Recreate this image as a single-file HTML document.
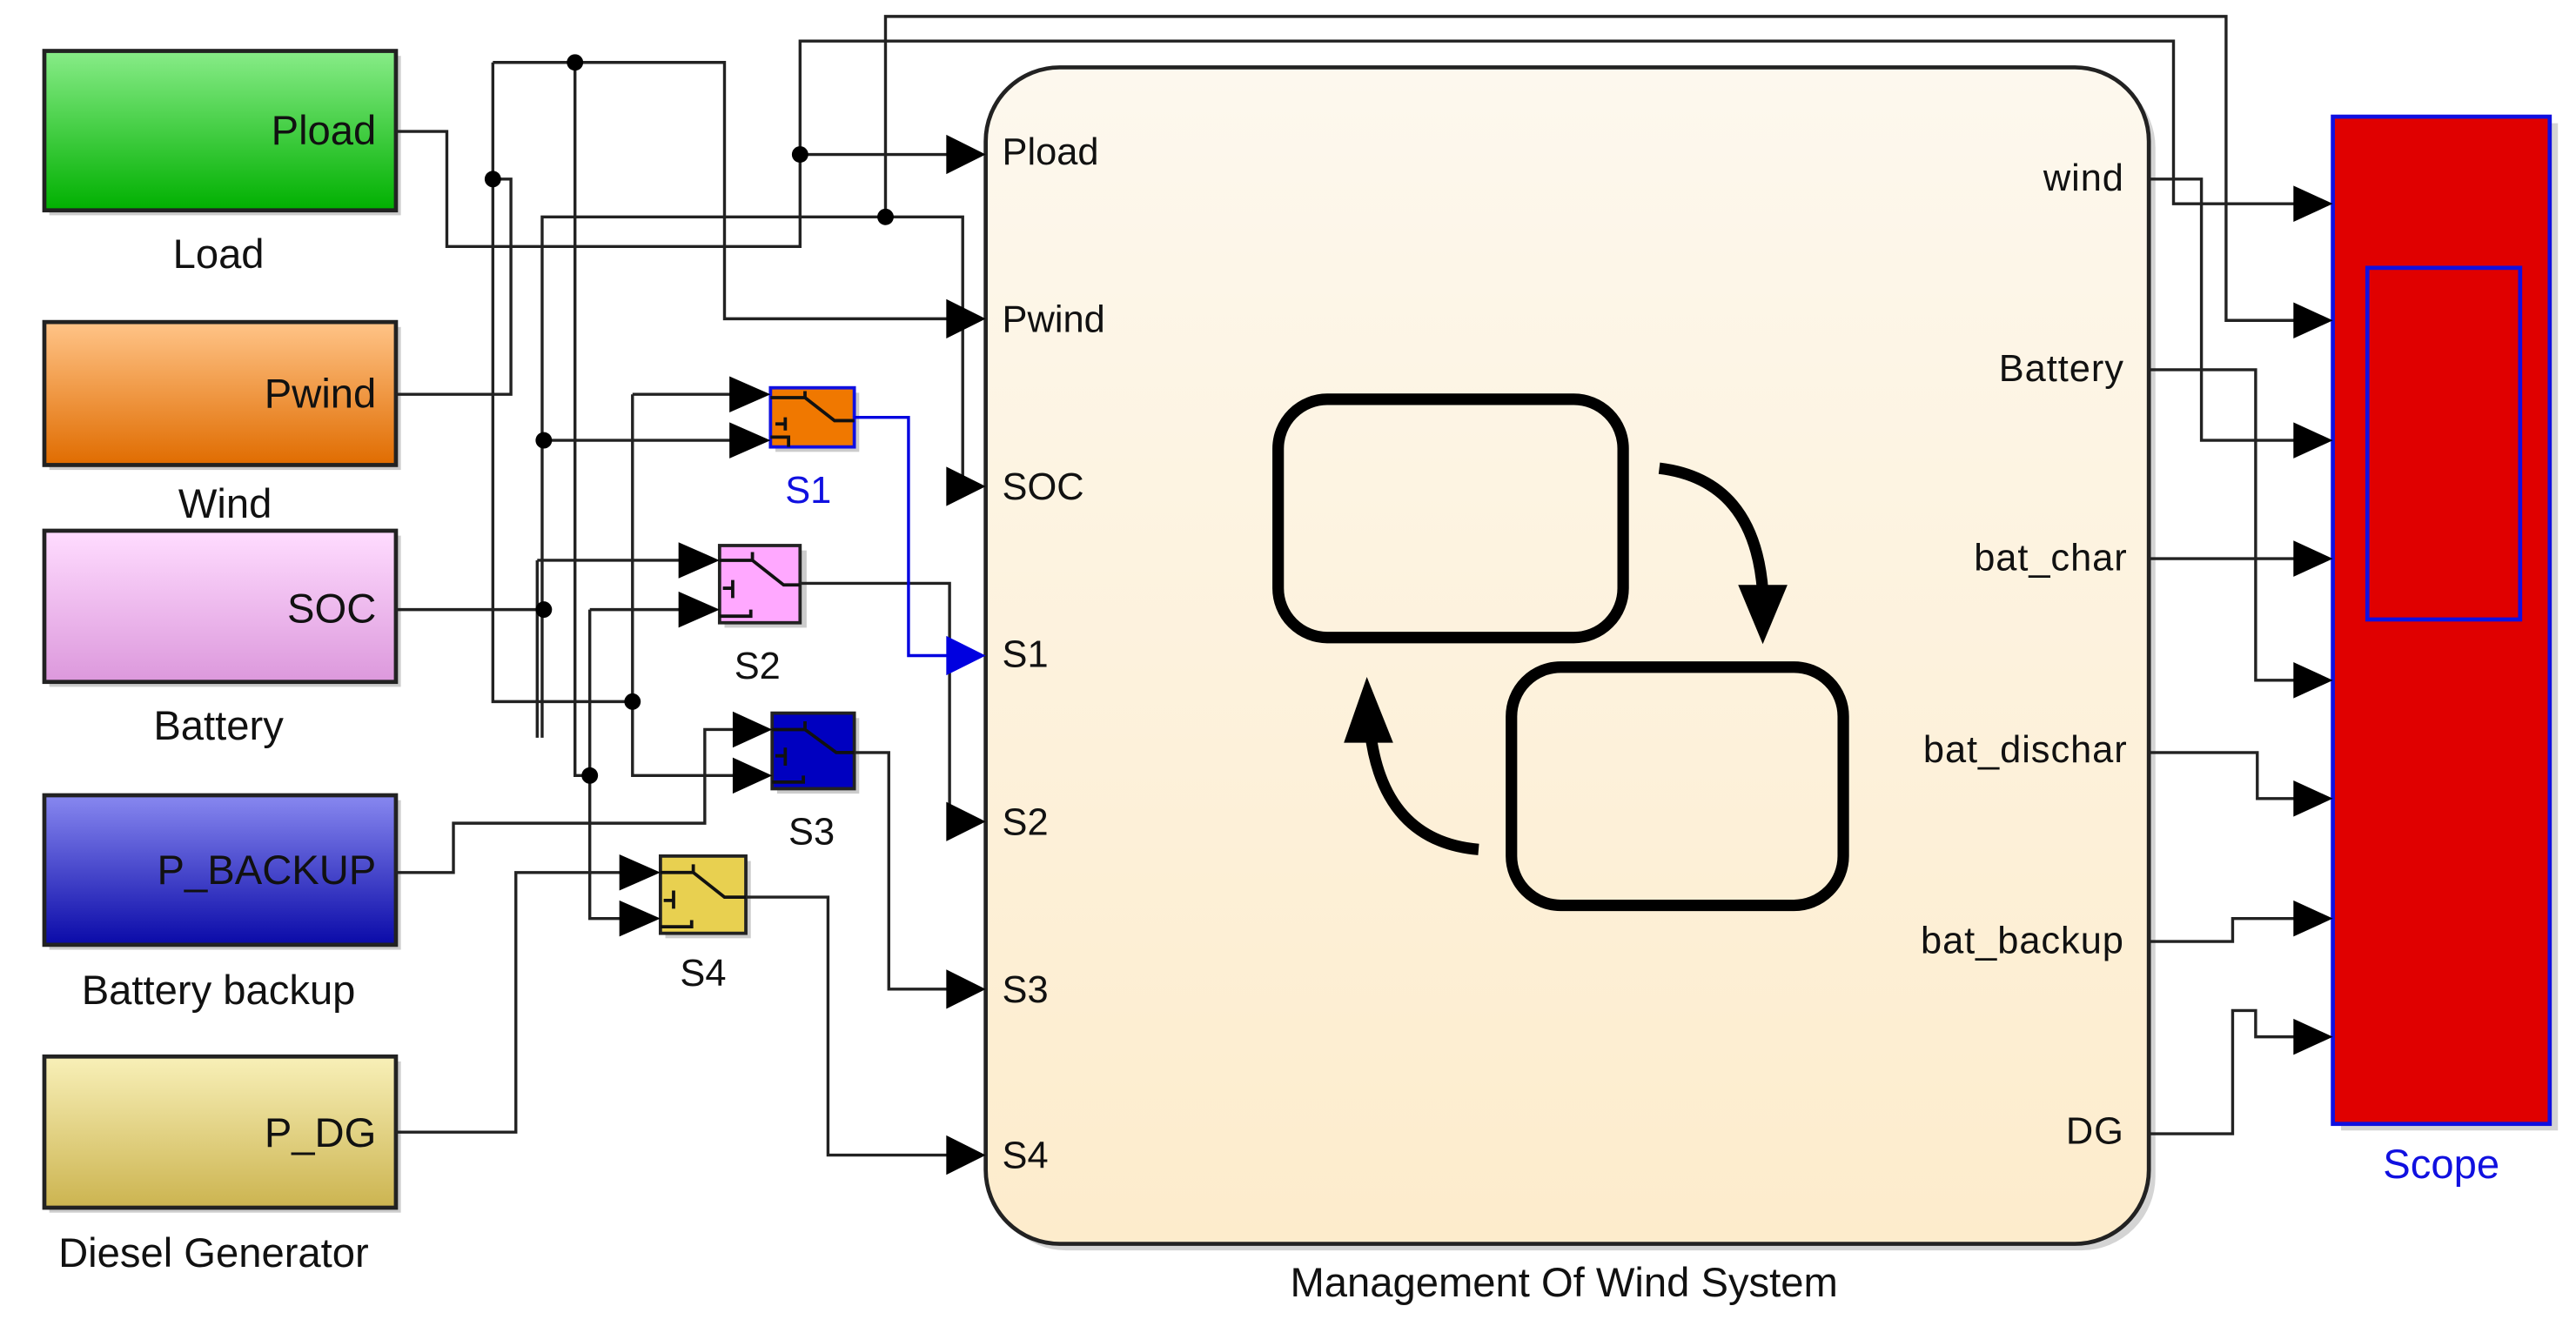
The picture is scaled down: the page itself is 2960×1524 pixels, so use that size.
<!DOCTYPE html>
<html><head><meta charset="utf-8"><style>
html,body{margin:0;padding:0;background:#fff;}
svg{display:block;}
text{font-family:"Liberation Sans",sans-serif;}
</style></head><body>
<svg width="2960" height="1524" viewBox="0 0 1568 807" preserveAspectRatio="none" xmlns="http://www.w3.org/2000/svg">
<defs>
<linearGradient id="gG" x1="0" y1="0" x2="0" y2="1"><stop offset="0" stop-color="#88ec88"/><stop offset="1" stop-color="#00b000"/></linearGradient>
<linearGradient id="gO" x1="0" y1="0" x2="0" y2="1"><stop offset="0" stop-color="#ffc488"/><stop offset="1" stop-color="#e06c00"/></linearGradient>
<linearGradient id="gP" x1="0" y1="0" x2="0" y2="1"><stop offset="0" stop-color="#ffdcff"/><stop offset="1" stop-color="#dc98dc"/></linearGradient>
<linearGradient id="gB" x1="0" y1="0" x2="0" y2="1"><stop offset="0" stop-color="#8888f0"/><stop offset="1" stop-color="#0a0aa8"/></linearGradient>
<linearGradient id="gY" x1="0" y1="0" x2="0" y2="1"><stop offset="0" stop-color="#f8f0b8"/><stop offset="1" stop-color="#ccb450"/></linearGradient>
<linearGradient id="gC" x1="0" y1="0" x2="0" y2="1"><stop offset="0" stop-color="#fdf8ee"/><stop offset="1" stop-color="#fdeccc"/></linearGradient>
</defs>

<g stroke="#222" stroke-width="2.5">
<rect x="30" y="34" width="214" height="97" fill="#999" stroke="none" opacity=".5"/>
<rect x="27" y="31" width="214" height="97" fill="url(#gG)"/>
<rect x="30" y="199" width="214" height="87" fill="#999" stroke="none" opacity=".5"/>
<rect x="27" y="196" width="214" height="87" fill="url(#gO)"/>
<rect x="30" y="326" width="214" height="92" fill="#999" stroke="none" opacity=".5"/>
<rect x="27" y="323" width="214" height="92" fill="url(#gP)"/>
<rect x="30" y="487" width="214" height="91" fill="#999" stroke="none" opacity=".5"/>
<rect x="27" y="484" width="214" height="91" fill="url(#gB)"/>
<rect x="30" y="646" width="214" height="92" fill="#999" stroke="none" opacity=".5"/>
<rect x="27" y="643" width="214" height="92" fill="url(#gY)"/>
</g>
<g font-size="25" fill="#111" text-anchor="end">
<text x="229" y="88">Pload</text>
<text x="229" y="248">Pwind</text>
<text x="229" y="379">SOC</text>
<text x="229" y="538">P_BACKUP</text>
<text x="229" y="698">P_DG</text>
</g>
<g font-size="25" fill="#111" text-anchor="middle">
<text x="133" y="163">Load</text>
<text x="137" y="315">Wind</text>
<text x="133" y="450">Battery</text>
<text x="133" y="611">Battery backup</text>
<text x="130" y="771">Diesel Generator</text>
</g>

<rect x="604" y="45" width="708" height="716" rx="45" fill="#aaa" opacity=".5"/>
<rect x="600" y="41" width="708" height="716" rx="45" fill="url(#gC)" stroke="#222" stroke-width="2.5"/>
<g font-size="23" fill="#111">
<text x="610" y="100">Pload</text>
<text x="610" y="202">Pwind</text>
<text x="610" y="304">SOC</text>
<text x="610" y="406">S1</text>
<text x="610" y="508">S2</text>
<text x="610" y="610">S3</text>
<text x="610" y="711">S4</text>
</g>
<g font-size="23" fill="#111" text-anchor="end" letter-spacing="0.5">
<text x="1293" y="116">wind</text>
<text x="1293" y="232">Battery</text>
<text x="1295" y="347">bat_char</text>
<text x="1295" y="464">bat_dischar</text>
<text x="1293" y="580">bat_backup</text>
<text x="1293" y="696">DG</text>
</g>
<text x="952" y="789" font-size="25" fill="#111" text-anchor="middle">Management Of Wind System</text>
<g fill="none" stroke="#000" stroke-width="7">
<rect x="778" y="243" width="210" height="145" rx="30"/>
<rect x="920" y="406" width="202" height="145" rx="30"/>
<path d="M1010,285 Q1068,292 1073,360"/>
<path d="M900,517 Q842,512 834,445"/>
</g>
<path d="M1058,356 L1088,356 L1073,392z" fill="#000"/>
<path d="M818,452 L848,452 L832,412z" fill="#000"/>

<rect x="1425" y="75" width="132" height="613" fill="#aaa" opacity=".5"/>
<rect x="1420" y="71" width="132" height="613" fill="#e00000" stroke="#1010e0" stroke-width="2.5"/>
<rect x="1441" y="163" width="93" height="214" fill="#e00000" stroke="#1010e0" stroke-width="2.5"/>
<text x="1486" y="717" font-size="25" fill="#1010e0" text-anchor="middle">Scope</text>

<g stroke="#222" stroke-width="2">
<rect x="472" y="239" width="51" height="36" fill="#999" stroke="none" opacity=".5"/>
<rect x="469" y="236" width="51" height="36" fill="#f07800" stroke="#1010e0"/>
<rect x="441" y="335" width="50" height="47" fill="#999" stroke="none" opacity=".5"/>
<rect x="438" y="332" width="49" height="47" fill="#ffa8ff"/>
<rect x="473" y="437" width="50" height="46" fill="#999" stroke="none" opacity=".5"/>
<rect x="470" y="434" width="50" height="46" fill="#0000c0"/>
<rect x="405" y="524" width="52" height="47" fill="#999" stroke="none" opacity=".5"/>
<rect x="402" y="521" width="52" height="47" fill="#e8d050"/>
</g>
<g fill="none" stroke="#111" stroke-width="2">
<path d="M469,242 H490 L508,256 H520 M490,242 V238 M478,254 V262 M472,258 H478 M480,272 V266 H469"/>
<path d="M438,341 H458 L477,356 H487 M458,341 V336 M446,353 V364 M440,358 H446 M438,375 H457 V371"/>
<path d="M470,444 H490 L509,458 H520 M490,444 V439 M478,455 V466 M472,460 H478 M470,476 H489 V472"/>
<path d="M402,531 H422 L441,546 H454 M422,531 V526 M410,542 V553 M404,548 H410 M402,564 H421 V560"/>
</g>
<g font-size="23" text-anchor="middle" fill="#111">
<text x="492" y="306" fill="#1010e0">S1</text>
<text x="461" y="413">S2</text>
<text x="494" y="514">S3</text>
<text x="428" y="600">S4</text>
</g>

<g fill="none" stroke="#222" stroke-width="1.8">
<path d="M241,80 H272 V150 H487 V94 H580"/>
<path d="M487,94 V25 H1323 V124 H1400"/>
<path d="M539,132 V10 H1355 V195 H1400"/>
<path d="M330,449 V132 H586 V290"/>
<path d="M241,371 H331 M331,268 H446"/>
<path d="M241,240 H311 V109 H300 M300,38 H441 V194 H580"/>
<path d="M300,38 V427 H385 M385,240 V472 H448"/>
<path d="M385,240 H448"/>
<path d="M350,38 V472 H359 M359,371 V559 H380"/>
<path d="M359,371 H415"/>
<path d="M327,341 V449 M327,341 H415"/>
<path d="M241,531 H276 V501 H429 V444 H448"/>
<path d="M241,689 H314 V531 H380"/>
<path d="M487,355 H578 V500 H580"/>
<path d="M520,458 H541 V602 H580"/>
<path d="M454,546 H504 V703 H580"/>
<path d="M1308,109 H1340 V268 H1400"/>
<path d="M1308,225 H1373 V414 H1400"/>
<path d="M1308,340 H1400"/>
<path d="M1308,458 H1374 V486 H1400"/>
<path d="M1308,573 H1359 V559 H1400"/>
<path d="M1308,690 H1359 V615 H1373 V631 H1400"/>
</g>
<path d="M520,254 H553 V399 H580" fill="none" stroke="#0000e0" stroke-width="1.8"/>
<g fill="#000">
<path d="M576,82 L600,94 L576,106z"/>
<path d="M576,182 L600,194 L576,206z"/>
<path d="M576,284 L600,296 L576,308z"/>
<path d="M576,488 L600,500 L576,512z"/>
<path d="M576,590 L600,602 L576,614z"/>
<path d="M576,691 L600,703 L576,715z"/>
<path d="M444,229 L469,240 L444,251z"/>
<path d="M444,257 L469,268 L444,279z"/>
<path d="M413,330 L438,341 L413,352z"/>
<path d="M413,360 L438,371 L413,382z"/>
<path d="M446,433 L470,444 L446,455z"/>
<path d="M446,461 L470,472 L446,483z"/>
<path d="M377,520 L402,531 L377,542z"/>
<path d="M377,548 L402,559 L377,570z"/>
<path d="M1396,113 L1420,124 L1396,135z"/>
<path d="M1396,184 L1420,195 L1396,206z"/>
<path d="M1396,257 L1420,268 L1396,279z"/>
<path d="M1396,329 L1420,340 L1396,351z"/>
<path d="M1396,403 L1420,414 L1396,425z"/>
<path d="M1396,475 L1420,486 L1396,497z"/>
<path d="M1396,548 L1420,559 L1396,570z"/>
<path d="M1396,620 L1420,631 L1396,642z"/>
<circle cx="487" cy="94" r="5"/><circle cx="539" cy="132" r="5"/>
<circle cx="300" cy="109" r="5"/><circle cx="350" cy="38" r="5"/>
<circle cx="331" cy="268" r="5"/><circle cx="331" cy="371" r="5"/>
<circle cx="385" cy="427" r="5"/><circle cx="359" cy="472" r="5"/>
</g>
<path d="M576,387 L600,399 L576,411z" fill="#0000e0"/>
</svg>
</body></html>
